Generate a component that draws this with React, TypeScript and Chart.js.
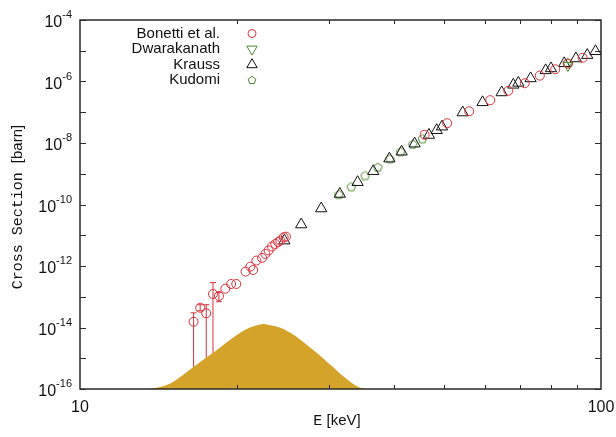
import React, { useEffect, useRef } from 'react';
import { Chart, registerables } from 'chart.js';
Chart.register(...registerables);

// ---- data ----
const bonettiE = [16.52, 17.01, 17.47, 18.0, 18.48, 19.01, 19.5, 19.95, 20.79, 21.23, 21.49, 21.8, 22.36, 22.69, 23.02, 23.37, 23.71, 24.0, 24.24, 24.6, 24.85, 45.86, 50.67, 55.85, 61.3, 66.4, 71.4, 76.3, 81.7, 86.4, 92.2];
const bonettiS = [1.54e-14, 4.4e-14, 2.9e-14, 1.23e-13, 1.06e-13, 1.83e-13, 2.6e-13, 2.6e-13, 6.6e-13, 9.5e-13, 7.4e-13, 1.5e-12, 1.83e-12, 2.47e-12, 3.2e-12, 4.3e-12, 5.2e-12, 6.0e-12, 6.7e-12, 8.6e-12, 9.0e-12, 1.85e-8, 4.4e-8, 1.08e-7, 2.47e-7, 5.0e-7, 8.8e-7, 1.55e-6, 2.5e-6, 3.8e-6, 5.9e-6];
const bonettiErrE = [16.52, 17.01, 17.47, 18.0, 18.48];
const bonettiErrLo = [1e-17, 3.5e-14, 1e-17, 1e-17, 6.9e-14];
const bonettiErrHi = [3.0e-14, 5.5e-14, 5.5e-14, 2.9e-13, 1.38e-13];

const dwarakanathE = [86.4];
const dwarakanathS = [3.3e-6];

const kraussE = [24.68, 26.58, 29.04, 31.53, 34.1, 36.55, 39.25, 41.43, 43.88, 46.75, 48.37, 49.52, 54.27, 59.24, 64.47, 67.88, 69.4, 73.26, 78.3, 80.16, 85.0, 89.5, 94.1, 97.6];
const kraussS = [6.7e-12, 2.23e-11, 7.4e-11, 2.2e-10, 5.3e-10, 1.21e-9, 3.1e-9, 5.2e-9, 9.5e-9, 1.82e-8, 2.6e-8, 3.4e-8, 9.8e-8, 2.1e-7, 4.4e-7, 7.8e-7, 9.0e-7, 1.26e-6, 2.3e-6, 2.66e-6, 3.9e-6, 5.6e-6, 7.2e-6, 9.6e-6];

const kudomiE = [31.39, 33.16, 35.25, 37.29, 39.35, 41.25, 43.53, 45.41, 86.2];
const kudomiS = [2.07e-10, 3.7e-10, 8.5e-10, 1.6e-9, 3.0e-9, 5.1e-9, 8.9e-9, 1.34e-8, 4.0e-6];

const gamowE = [13.6, 14.25, 14.9, 15.57, 16.27, 17.01, 18.02, 19.43, 20.76, 22.39, 23.2, 24.24, 25.34, 26.49, 27.69, 28.94, 30.25, 31.62, 33.05, 34.25, 35.48];
const gamowS = [1.0e-16, 1.16e-16, 1.51e-16, 2.47e-16, 4.34e-16, 7.6e-16, 1.5e-15, 3.97e-15, 8.4e-15, 1.29e-14, 1.18e-14, 9.8e-15, 6.7e-15, 3.97e-15, 2.18e-15, 1.19e-15, 6.1e-16, 3.09e-16, 1.7e-16, 1.16e-16, 1.0e-16];

const yLabelExps = [-4, -6, -8, -10, -12, -14, -16];
const yTickExps = [-4, -5, -6, -7, -8, -9, -10, -11, -12, -13, -14, -15, -16];
const xMinorTicks = [20, 30, 40, 50, 60, 70, 80, 90];
const xLabels = [10, 100];
const legendNames = ['Bonetti et al.', 'Dwarakanath', 'Krauss', 'Kudomi'];

const RED = '#d8323c';
const GREEN = '#4f8a2e';
const BLACK = '#111111';
const GOLD = '#d4a42a';
const SANS = '"Liberation Sans", Arial, sans-serif';
const MONO = '"Liberation Mono", "Courier New", monospace';

const toXY = (xs: number[], ys: number[]) => xs.map((v, i) => ({ x: v, y: ys[i] }));

function makePentagon(color: string, r: number) {
  const c = document.createElement('canvas');
  const s = Math.ceil(r * 2 + 4);
  c.width = s; c.height = s;
  const g = c.getContext('2d')!;
  g.strokeStyle = color; g.lineWidth = 1;
  g.beginPath();
  for (let i = 0; i < 5; i++) {
    const a = -Math.PI / 2 + (i * 2 * Math.PI) / 5;
    const px = s / 2 + r * Math.cos(a), py = s / 2 + r * Math.sin(a);
    if (i) g.lineTo(px, py); else g.moveTo(px, py);
  }
  g.closePath(); g.stroke();
  return c;
}

function drawMarker(ctx: CanvasRenderingContext2D, kind: number, x: number, y: number) {
  ctx.save();
  ctx.lineWidth = 1;
  ctx.beginPath();
  if (kind === 0) {
    ctx.strokeStyle = RED;
    ctx.arc(x, y, 4, 0, Math.PI * 2);
  } else if (kind === 1 || kind === 2) {
    ctx.strokeStyle = kind === 1 ? GREEN : BLACK;
    const r = 6;
    const rot = kind === 1 ? Math.PI : 0;
    for (let i = 0; i < 3; i++) {
      const a = rot + (i * 2 * Math.PI) / 3;
      const px = x + Math.sin(a) * r, py = y - Math.cos(a) * r;
      if (i) ctx.lineTo(px, py); else ctx.moveTo(px, py);
    }
    ctx.closePath();
  } else {
    ctx.strokeStyle = GREEN;
    const r = 4;
    for (let i = 0; i < 5; i++) {
      const a = -Math.PI / 2 + (i * 2 * Math.PI) / 5;
      const px = x + r * Math.cos(a), py = y + r * Math.sin(a);
      if (i) ctx.lineTo(px, py); else ctx.moveTo(px, py);
    }
    ctx.closePath();
  }
  ctx.stroke();
  ctx.restore();
}

const decorPlugin = {
  id: 'decor',
  beforeDatasetsDraw(chart: any) {
    const { ctx, chartArea: a, scales } = chart;
    const x = scales.x, y = scales.y;
    ctx.save();
    ctx.beginPath();
    ctx.rect(a.left, a.top, a.right - a.left, a.bottom - a.top);
    ctx.clip();
    ctx.strokeStyle = RED;
    ctx.lineWidth = 1;
    bonettiErrE.forEach((e, i) => {
      const px = x.getPixelForValue(e);
      const y1 = y.getPixelForValue(bonettiErrHi[i]);
      const y0 = y.getPixelForValue(bonettiErrLo[i]);
      ctx.beginPath();
      ctx.moveTo(px, y0); ctx.lineTo(px, y1);
      ctx.moveTo(px - 3, y1); ctx.lineTo(px + 3, y1);
      ctx.moveTo(px - 3, y0); ctx.lineTo(px + 3, y0);
      ctx.stroke();
    });
    ctx.restore();
  },
  afterDraw(chart: any) {
    const { ctx, chartArea: a, scales } = chart;
    const x = scales.x, y = scales.y;
    ctx.save();
    // frame
    ctx.strokeStyle = '#2a2a2a';
    ctx.lineWidth = 1.5;
    ctx.strokeRect(a.left, a.top, a.right - a.left, a.bottom - a.top);
    ctx.lineWidth = 1;
    ctx.beginPath();
    yTickExps.forEach((e) => {
      const py = Math.round(y.getPixelForValue(Math.pow(10, e))) + 0.5;
      ctx.moveTo(a.left, py); ctx.lineTo(a.left + 6, py);
      ctx.moveTo(a.right, py); ctx.lineTo(a.right - 6, py);
    });
    xMinorTicks.forEach((v) => {
      const px = Math.round(x.getPixelForValue(v)) + 0.5;
      ctx.moveTo(px, a.bottom); ctx.lineTo(px, a.bottom - 4);
      ctx.moveTo(px, a.top); ctx.lineTo(px, a.top + 4);
    });
    ctx.stroke();

    // y tick labels
    ctx.fillStyle = BLACK;
    ctx.textBaseline = 'alphabetic';
    yLabelExps.forEach((e) => {
      const py = y.getPixelForValue(Math.pow(10, e));
      const exp = String(e);
      ctx.font = `11px ${SANS}`;
      const we = ctx.measureText(exp).width;
      const right = a.left - 8;
      ctx.textAlign = 'left';
      ctx.fillText(exp, right - we, py - 2);
      ctx.font = `16px ${SANS}`;
      ctx.textAlign = 'right';
      ctx.fillText('10', right - we, py + 7);
    });
    // x tick labels
    ctx.font = `16px ${SANS}`;
    ctx.textAlign = 'center';
    xLabels.forEach((v) => {
      ctx.fillText(String(v), x.getPixelForValue(v), a.bottom + 23);
    });

    // x title
    ctx.font = `15px ${MONO}`;
    const t1 = 'E';
    const w1 = ctx.measureText(t1).width;
    ctx.font = `15px ${SANS}`;
    const t2 = ' [keV]';
    const w2 = ctx.measureText(t2).width;
    const sx = 337 - (w1 + w2) / 2;
    ctx.textAlign = 'left';
    ctx.font = `15px ${MONO}`;
    ctx.fillText(t1, sx, 425);
    ctx.font = `15px ${SANS}`;
    ctx.fillText(t2, sx + w1, 425);

    // y title
    ctx.save();
    ctx.translate(22, 207);
    ctx.rotate(-Math.PI / 2);
    ctx.font = `15px ${MONO}`;
    const y1t = 'Cross Section ';
    const yw1 = ctx.measureText(y1t).width;
    ctx.font = `15px ${SANS}`;
    const y2t = '[barn]';
    const yw2 = ctx.measureText(y2t).width;
    const ys = -(yw1 + yw2) / 2;
    ctx.font = `15px ${MONO}`;
    ctx.fillText(y1t, ys, 0);
    ctx.font = `15px ${SANS}`;
    ctx.fillText(y2t, ys + yw1, 0);
    ctx.restore();

    // legend
    ctx.font = `15px ${SANS}`;
    ctx.textAlign = 'right';
    ctx.textBaseline = 'middle';
    legendNames.forEach((n, i) => {
      const ly = 33.5 + i * 15.6;
      ctx.fillStyle = BLACK;
      ctx.fillText(n, 220, ly);
      drawMarker(ctx, i, 252, ly);
    });
    ctx.restore();
  },
};

export default function App() {
  const ref = useRef<HTMLCanvasElement | null>(null);
  useEffect(() => {
    if (!ref.current) return;
    const pent = makePentagon(GREEN, 4.5);
    const chart = new Chart(ref.current, {
      type: 'scatter',
      data: {
        datasets: [
          {
            label: 'Bonetti et al.',
            data: toXY(bonettiE, bonettiS),
            pointStyle: 'circle',
            pointRadius: 4.5,
            borderColor: RED,
            backgroundColor: 'rgba(0,0,0,0)',
            borderWidth: 1,
            order: 1,
          },
          {
            label: 'Dwarakanath',
            data: toXY(dwarakanathE, dwarakanathS),
            pointStyle: 'triangle',
            rotation: 180,
            pointRadius: 6,
            borderColor: GREEN,
            backgroundColor: 'rgba(0,0,0,0)',
            borderWidth: 1,
            order: 1,
          },
          {
            label: 'Krauss',
            data: toXY(kraussE, kraussS),
            pointStyle: 'triangle',
            pointRadius: 6.5,
            borderColor: BLACK,
            backgroundColor: 'rgba(0,0,0,0)',
            borderWidth: 1,
            order: 1,
          },
          {
            label: 'Kudomi',
            data: toXY(kudomiE, kudomiS),
            pointStyle: pent as any,
            pointRadius: 4.5,
            borderColor: GREEN,
            backgroundColor: 'rgba(0,0,0,0)',
            borderWidth: 1,
            order: 1,
          },
          {
            label: 'Gamow',
            data: toXY(gamowE, gamowS),
            showLine: true,
            fill: 'start',
            pointRadius: 0,
            borderWidth: 0,
            borderColor: GOLD,
            backgroundColor: GOLD,
            tension: 0.35,
            order: 5,
          } as any,
        ],
      },
      options: {
        responsive: false,
        animation: false,
        devicePixelRatio: 1,
        layout: { padding: { left: 80, right: 15, top: 20, bottom: 48 } },
        plugins: { legend: { display: false }, tooltip: { enabled: false } },
        scales: {
          x: { type: 'logarithmic', min: 10, max: 100, display: false },
          y: { type: 'logarithmic', min: 1e-16, max: 1e-4, display: false },
        },
      },
      plugins: [decorPlugin as any],
    });
    return () => chart.destroy();
  }, []);
  return (
    <div style={{ position: 'fixed', left: 0, top: 0, width: 616, height: 437, background: '#fff' }}>
      <canvas ref={ref} width={616} height={437} />
    </div>
  );
}
